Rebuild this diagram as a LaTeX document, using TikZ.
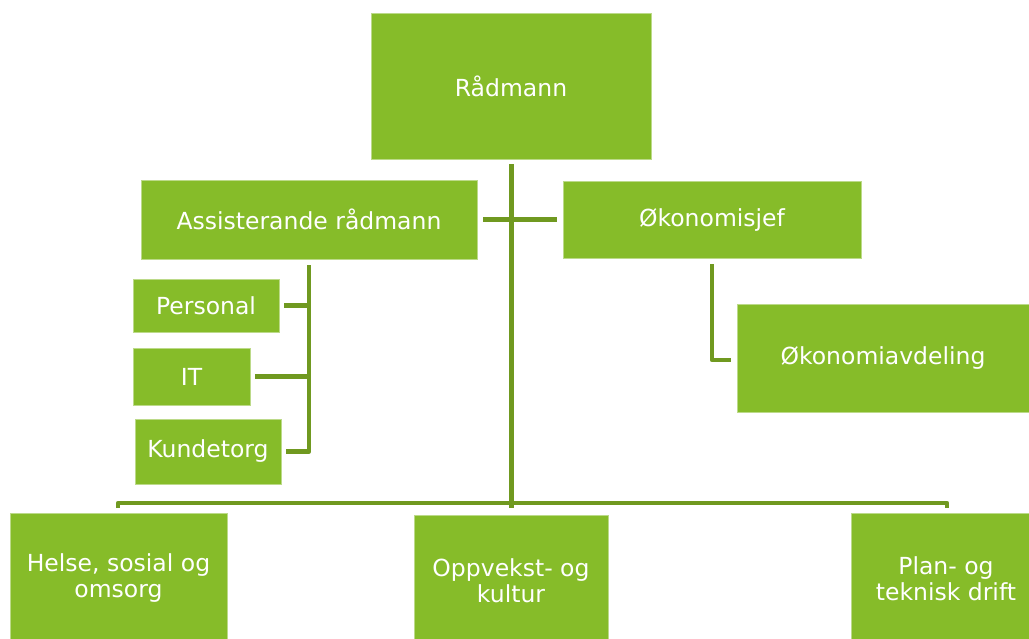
\documentclass[tikz,border=0pt]{standalone}
\usepackage{fontspec}
\setmainfont{DejaVu Sans}
\definecolor{boxgreen}{RGB}{134,188,41}
\definecolor{linegreen}{RGB}{112,153,32}
\tikzset{
  box/.style={rectangle, fill=boxgreen, draw=boxgreen!55!white, line width=0.8pt,
    inner sep=0pt, text=white, align=center,
    font=\fontsize{23.5}{26}\selectfont},
  conn/.style={draw=linegreen, line width=4.5pt, line join=round}
}
\begin{document}
\begin{tikzpicture}[x=1pt,y=-1pt]
\useasboundingbox (0,0) rectangle (1029,638);
% boxes: center, width, height
\node[box, minimum width=280, minimum height=146] (rad) at (511,86) {Rådmann};
\node[box, minimum width=336, minimum height=79] (asst) at (309,219.5) {Assisterande rådmann};
\node[box, minimum width=298, minimum height=77] (oko) at (712,219.5) {Økonomisjef};
\node[box, minimum width=292, minimum height=108] (okav) at (883,358) {Økonomiavdeling};
\node[box, minimum width=146, minimum height=53] (pers) at (206,305.5) {Personal};
\node[box, minimum width=117, minimum height=57] (it) at (191.5,376.5) {IT};
\node[box, minimum width=146, minimum height=65] (kund) at (208,451.5) {Kundetorg};
\node[box, minimum width=217, minimum height=131] (helse) at (118.5,578.5) {Helse, sosial og\\omsorg};
\node[box, minimum width=194, minimum height=131] (opp) at (511,580.5) {Oppvekst- og\\kultur};
\node[box, minimum width=190, minimum height=131] (plan) at (946,578.5) {Plan- og\\teknisk drift};
% connectors
\coordinate (bl) at (118,508);
\coordinate (blt) at (118,503);
\coordinate (brt) at (947,503);
\coordinate (br) at (947,508);
\draw[conn] (bl) -- (blt) -- (brt) -- (br);
\draw[conn, line width=5pt, shorten <=5pt] (rad.south) -- (rad.south |- bl);
\draw[conn, shorten <=6pt, shorten >=6pt] (asst.east) -- (oko.west);
\draw[conn, shorten <=6pt] (asst.south) |- ([xshift=5pt]kund.east);
\draw[conn] ([xshift=5pt]pers.east) -- (pers.east -| asst.south);
\draw[conn] ([xshift=5pt]it.east) -- (it.east -| asst.south);
\draw[conn, shorten <=6pt] (oko.south) |- ([xshift=-6pt, yshift=-2pt]okav.west);
\end{tikzpicture}
\end{document}
